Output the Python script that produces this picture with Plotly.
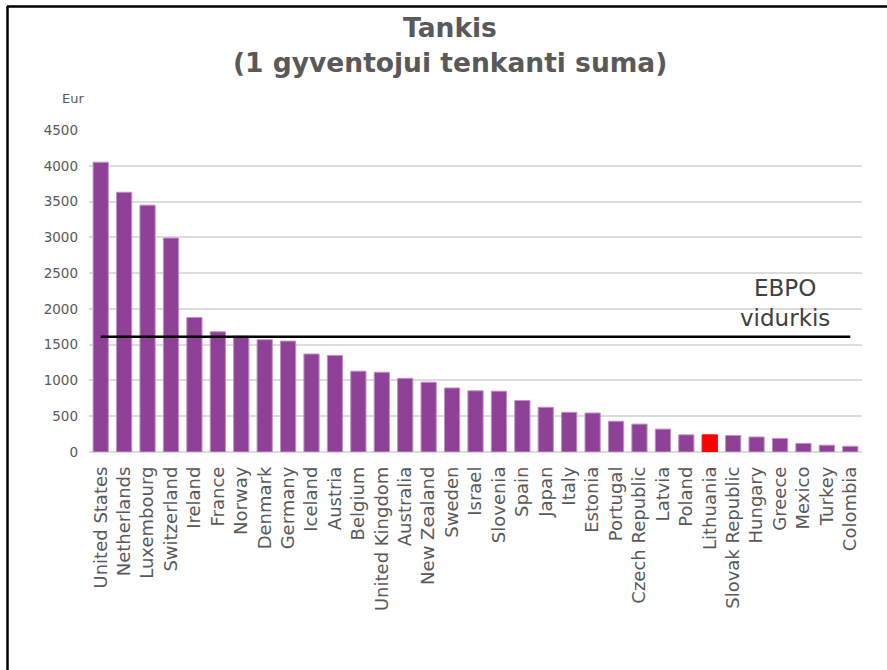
import plotly.graph_objects as go

countries = ["United States", "Netherlands", "Luxembourg", "Switzerland", "Ireland", "France",
             "Norway", "Denmark", "Germany", "Iceland", "Austria", "Belgium", "United Kingdom",
             "Australia", "New Zealand", "Sweden", "Israel", "Slovenia", "Spain", "Japan", "Italy",
             "Estonia", "Portugal", "Czech Republic", "Latvia", "Poland", "Lithuania",
             "Slovak Republic", "Hungary", "Greece", "Mexico", "Turkey", "Colombia"]
values = [4050, 3630, 3450, 2990, 1880, 1680, 1620, 1570, 1550, 1370, 1350, 1130, 1115,
          1030, 975, 895, 855, 850, 720, 625, 555, 545, 430, 390, 320, 240, 240,
          230, 210, 190, 120, 95, 80]
oecd_avg = 1610
highlight = "Lithuania"
y_ticks = [0, 500, 1000, 1500, 2000, 2500, 3000, 3500, 4000, 4500]

PURPLE = "#8E4196"
RED = "#FF0000"
colors = [RED if c == highlight else PURPLE for c in countries]
line_colors = ["#FF0000" if c == highlight else "#BE93C4" for c in countries]

fig = go.Figure()
fig.add_trace(go.Bar(
    x=countries, y=values,
    marker=dict(color=colors, line=dict(color=line_colors, width=1)),
    showlegend=False, hoverinfo="x+y",
))
fig.add_trace(go.Scatter(
    x=[countries[0], countries[-1]], y=[oecd_avg, oecd_avg],
    mode="lines", line=dict(color="black", width=2.5),
    showlegend=False, hoverinfo="skip",
))

W, H = 887, 670
L, R, T, B = 89, 25, 130, 218
pw, ph = W - L - R, H - T - B

def px_x(p):
    return (p - L) / pw

def px_y(p):
    return (H - B - p) / ph

fig.update_layout(
    width=W, height=H,
    margin=dict(l=L, r=R, t=T, b=B, autoexpand=False),
    paper_bgcolor="white", plot_bgcolor="white",
    bargap=0.35,
    font=dict(family="DejaVu Sans, Verdana, sans-serif", color="#595959"),
    xaxis=dict(
        tickangle=-90, tickfont=dict(size=18, color="#595959"),
        showgrid=False, showline=False, ticks="", zeroline=False,
        range=[-0.5, len(countries) - 0.5], ticklabelstandoff=10,
    ),
    yaxis=dict(
        range=[0, 4500], tickvals=y_ticks, ticktext=[str(v) for v in y_ticks],
        tickfont=dict(size=13.5, color="#595959"),
        showgrid=True, gridcolor="#DCDCDC", gridwidth=1.5,
        zeroline=True, zerolinecolor="#DCDCDC", zerolinewidth=1.5,
        showline=False, ticks="", ticklabelstandoff=10,
    ),
    shapes=[
        dict(type="line", xref="paper", yref="paper",
             x0=px_x(7), x1=px_x(W + 10), y0=px_y(6.5), y1=px_y(6.5),
             line=dict(color="black", width=2.5)),
        dict(type="line", xref="paper", yref="paper",
             x0=px_x(7.5), x1=px_x(7.5), y0=px_y(6), y1=px_y(H + 10),
             line=dict(color="black", width=2.5)),
    ],
    annotations=[
        dict(text="<b>Tankis</b>", xref="paper", yref="paper", x=px_x(450), y=px_y(28),
             xanchor="center", yanchor="middle", showarrow=False,
             font=dict(size=26.5, color="#595959")),
        dict(text="<b>(1 gyventojui tenkanti suma)</b>", xref="paper", yref="paper",
             x=px_x(450), y=px_y(62), xanchor="center", yanchor="middle", showarrow=False,
             font=dict(size=26.5, color="#595959")),
        dict(text="Eur", xref="paper", yref="paper", x=px_x(73), y=px_y(98),
             xanchor="center", yanchor="middle", showarrow=False,
             font=dict(size=13, color="#595959")),
        dict(text="EBPO<br>vidurkis", xref="paper", yref="paper",
             x=px_x(785), y=px_y(303), xanchor="center", yanchor="middle",
             showarrow=False, align="center",
             font=dict(size=23, color="#404040")),
    ],
)

fig.write_html("out.html", config={"displayModeBar": False},
               post_script="document.body.style.margin='0';document.body.style.overflow='hidden';")
